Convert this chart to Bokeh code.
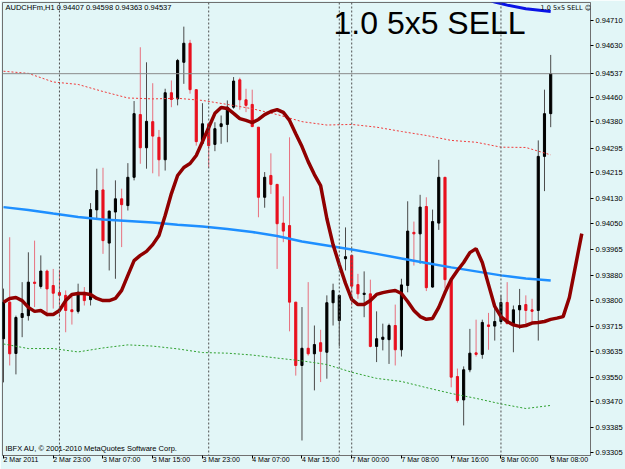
from bokeh.plotting import figure
from bokeh.models import Range1d, FixedTicker, PrintfTickFormatter, Span, Label, ColumnDataSource
from bokeh.embed import file_html
from bokeh.resources import INLINE

# ---------------- data ----------------
symbol = "AUDCHFm,H1"
opens = [0.93675, 0.93794, 0.93627, 0.93744, 0.93750, 0.93859, 0.93845, 0.93895, 0.93848, 0.93825,
         0.93816, 0.93769, 0.93764, 0.93826, 0.93802, 0.94094, 0.94159, 0.93986, 0.94087, 0.94130,
         0.94108, 0.94200, 0.94404, 0.94296, 0.94381, 0.94330, 0.94257, 0.94475, 0.94455, 0.94574,
         0.94636, 0.94485, 0.94311, 0.94374, 0.94307, 0.94365, 0.94372, 0.94428, 0.94517, 0.94452,
         0.94437, 0.94363, 0.94135, 0.94206, 0.94177, 0.94051, 0.94043, 0.93794, 0.93588, 0.93644,
         0.93626, 0.93662, 0.93631, 0.93792, 0.93734, 0.93935, 0.93946, 0.93851, 0.93819, 0.93821,
         0.93650, 0.93673, 0.93672, 0.93718, 0.93639, 0.93848, 0.94021, 0.94016, 0.94105, 0.93843,
         0.94051, 0.94200, 0.93867, 0.93552, 0.93476, 0.93574, 0.93629, 0.93624, 0.93720, 0.93716,
         0.93731, 0.93793, 0.93724, 0.93769, 0.93786, 0.93769, 0.93767, 0.94268, 0.94407]
highs = [0.93838, 0.94005, 0.93750, 0.93859, 0.93956, 0.93994, 0.93946, 0.93900, 0.93902, 0.93900,
         0.93832, 0.93822, 0.93854, 0.93843, 0.94116, 0.94228, 0.94231, 0.94092, 0.94190, 0.94163,
         0.94246, 0.94448, 0.94623, 0.94574, 0.94506, 0.94354, 0.94488, 0.94515, 0.94585, 0.94690,
         0.94647, 0.94486, 0.94441, 0.94375, 0.94379, 0.94401, 0.94450, 0.94526, 0.94524, 0.94488,
         0.94485, 0.94363, 0.94217, 0.94278, 0.94177, 0.94138, 0.94330, 0.93794, 0.93778, 0.93859,
         0.93718, 0.93704, 0.93816, 0.93854, 0.93816, 0.94037, 0.93948, 0.93886, 0.93894, 0.93867,
         0.93764, 0.93724, 0.93724, 0.93786, 0.93870, 0.94122, 0.94056, 0.94143, 0.94135, 0.94095,
         0.94257, 0.94200, 0.93868, 0.93578, 0.93585, 0.93707, 0.93737, 0.93737, 0.93759, 0.93789,
         0.93816, 0.93859, 0.93783, 0.93837, 0.93816, 0.93805, 0.94320, 0.94485, 0.94598]
lows = [0.93533, 0.93588, 0.93559, 0.93680, 0.93734, 0.93778, 0.93838, 0.93747, 0.93773, 0.93744,
        0.93696, 0.93721, 0.93757, 0.93783, 0.93783, 0.94065, 0.93951, 0.93897, 0.93870, 0.93973,
        0.94092, 0.94190, 0.94244, 0.94228, 0.94213, 0.94203, 0.94222, 0.94428, 0.94434, 0.94504,
        0.94472, 0.94303, 0.94309, 0.94231, 0.94285, 0.94309, 0.94314, 0.94423, 0.94420, 0.94412,
        0.94363, 0.94070, 0.94101, 0.94146, 0.93902, 0.93989, 0.93699, 0.93555, 0.93344, 0.93620,
        0.93507, 0.93534, 0.93545, 0.93718, 0.93650, 0.93897, 0.93783, 0.93805, 0.93745, 0.93647,
        0.93599, 0.93637, 0.93593, 0.93588, 0.93617, 0.93826, 0.93913, 0.93919, 0.93830, 0.93841,
        0.94029, 0.93838, 0.93517, 0.93467, 0.93393, 0.93566, 0.93617, 0.93610, 0.93639, 0.93669,
        0.93724, 0.93722, 0.93631, 0.93707, 0.93724, 0.93729, 0.93669, 0.94155, 0.94363]
closes = [0.93794, 0.93626, 0.93744, 0.93757, 0.93859, 0.93855, 0.93895, 0.93837, 0.93823, 0.93816,
          0.93767, 0.93763, 0.93826, 0.93799, 0.94095, 0.94157, 0.93994, 0.94090, 0.94130, 0.94111,
          0.94200, 0.94407, 0.94296, 0.94382, 0.94334, 0.94257, 0.94475, 0.94453, 0.94580, 0.94636,
          0.94485, 0.94316, 0.94374, 0.94303, 0.94358, 0.94374, 0.94428, 0.94513, 0.94452, 0.94434,
          0.94365, 0.94135, 0.94200, 0.94177, 0.94049, 0.94025, 0.93794, 0.93588, 0.93644, 0.93626,
          0.93656, 0.93634, 0.93792, 0.93832, 0.93816, 0.93942, 0.93846, 0.93821, 0.93823, 0.93650,
          0.93675, 0.93680, 0.93718, 0.93639, 0.93850, 0.94025, 0.94016, 0.94103, 0.93841, 0.94056,
          0.94200, 0.93867, 0.93550, 0.93474, 0.93574, 0.93628, 0.93624, 0.93728, 0.93715, 0.93731,
          0.93793, 0.93724, 0.93769, 0.93783, 0.93767, 0.93764, 0.94268, 0.94407, 0.94537]

# time-axis labels (every 8th hourly bar)
x_tick_labels = ["2 Mar 2011", "2 Mar 23:00", "3 Mar 07:00", "3 Mar 15:00", "3 Mar 23:00",
                 "4 Mar 07:00", "4 Mar 15:00", "7 Mar 00:00", "7 Mar 08:00", "7 Mar 16:00",
                 "8 Mar 00:00", "8 Mar 08:00"]
y_tick_values = [0.94710, 0.94630, 0.94537, 0.94460, 0.94380, 0.94295, 0.94215, 0.94130, 0.94050,
                 0.93965, 0.93880, 0.93800, 0.93715, 0.93635, 0.93550, 0.93470, 0.93385, 0.93305]
separator_bars = [9, 33, 54, 56, 80]

# forward-shifted moving average (bars 0..93)
ma_shifted = [0.93794, 0.93806, 0.93809, 0.93799, 0.93777, 0.93764, 0.93767, 0.93754, 0.93754, 0.93767,
              0.93799, 0.93819, 0.93822, 0.93822, 0.93819, 0.93806, 0.93799, 0.93799, 0.93806, 0.93832,
              0.93881, 0.93929, 0.93946, 0.93959, 0.93981, 0.94011, 0.94076, 0.94147, 0.94206, 0.94232,
              0.94245, 0.94271, 0.94316, 0.94362, 0.94408, 0.94427, 0.94424, 0.94408, 0.94391, 0.94385,
              0.94378, 0.94388, 0.94404, 0.94414, 0.94420, 0.94411, 0.94385, 0.94342, 0.94300, 0.94251,
              0.94209, 0.94173, 0.94066, 0.93981, 0.93916, 0.93855, 0.93803, 0.93786, 0.93786, 0.93799,
              0.93819, 0.93825, 0.93829, 0.93832, 0.93822, 0.93796, 0.93767, 0.93747, 0.93738, 0.93741,
              0.93777, 0.93825, 0.93868, 0.93897, 0.93923, 0.93955, 0.93968, 0.93923, 0.93851, 0.93780,
              0.93747, 0.93731, 0.93720, 0.93715, 0.93718, 0.93726, 0.93728, 0.93731, 0.93738, 0.93742,
              0.93747, 0.93809, 0.93913, 0.94017]
# long moving average and envelope bands, read every 4th bar
ma_long = [0.94103, 0.94094, 0.94082, 0.94071, 0.94063, 0.94058, 0.94053, 0.94046, 0.94040, 0.94032,
           0.94022, 0.94009, 0.93991, 0.93978, 0.93965, 0.93951, 0.93936, 0.93921, 0.93907, 0.93894,
           0.93881, 0.93871, 0.93864]
env_upper = [0.94545, 0.94538, 0.94510, 0.94502, 0.94479, 0.94458, 0.94455, 0.94457, 0.94450, 0.94437,
             0.94423, 0.94404, 0.94381, 0.94370, 0.94372, 0.94363, 0.94349, 0.94336, 0.94320, 0.94314,
             0.94298, 0.94297, 0.94273]
env_lower = [0.93658, 0.93643, 0.93643, 0.93632, 0.93645, 0.93655, 0.93651, 0.93642, 0.93630, 0.93628,
             0.93622, 0.93612, 0.93603, 0.93591, 0.93566, 0.93546, 0.93536, 0.93516, 0.93497, 0.93481,
             0.93463, 0.93448, 0.93458]
top_line_bars = [77, 79, 81, 84, 88]
top_line_values = [0.94785, 0.94770, 0.94760, 0.94748, 0.94739]

signal_text = "1.0 5x5 SELL"
copyright_text = "IBFX AU, \u00a9 2001-2010 MetaQuotes Software Corp."

# ---------------- derived ----------------
n = len(closes)
bars = list(range(n))
x_tick_bars = list(range(0, n, 8))
sample_bars = list(range(0, n, 4))
ma_bars = list(range(len(ma_shifted)))

BG = "#E2F6F7"
UP_BODY, UP_WICK = "#000000", "#4A4A4A"
DN_BODY, DN_WICK = "#E8101E", "#E8707E"

is_up = [c >= o for o, c in zip(opens, closes)]
src = ColumnDataSource(dict(
    x=bars,
    top=[max(o, c) for o, c in zip(opens, closes)],
    bottom=[min(o, c) for o, c in zip(opens, closes)],
    high=highs, low=lows,
    body=[UP_BODY if u else DN_BODY for u in is_up],
    wick=[UP_WICK if u else DN_WICK for u in is_up],
))

p = figure(width=625, height=469,
           x_range=Range1d(-0.16, 94.4), y_range=Range1d(0.932952, 0.947685),
           y_axis_location="right", output_backend="svg", toolbar_location=None,
           min_border_left=2, min_border_top=2, min_border_right=32, min_border_bottom=14,
           background_fill_color=BG, border_fill_color=BG)
p.outline_line_color = "#707070"
p.xgrid.visible = False
p.ygrid.visible = False

# axes
FONT = "Liberation Sans"
p.yaxis.ticker = FixedTicker(ticks=y_tick_values)
p.yaxis.formatter = PrintfTickFormatter(format="%.5f")
p.yaxis.major_label_text_font = FONT
p.yaxis.major_label_text_font_size = "7.5px"
p.yaxis.major_label_text_color = "#000000"
p.yaxis.major_tick_out = 3
p.yaxis.major_tick_in = 0
p.yaxis.minor_tick_line_color = None
p.yaxis.major_label_standoff = 2
p.yaxis.axis_line_color = "#707070"
p.yaxis.major_tick_line_color = "#000000"

p.xaxis.ticker = FixedTicker(ticks=x_tick_bars)
p.xaxis.major_label_overrides = {b: lab for b, lab in zip(x_tick_bars, x_tick_labels)}
p.xaxis.major_label_text_font = FONT
p.xaxis.major_label_text_font_size = "7px"
p.xaxis.major_label_text_color = "#000000"
p.xaxis.major_label_orientation = -0.0001   # numeric orientation -> labels start at the tick
p.xaxis.major_tick_out = 3
p.xaxis.major_tick_in = 0
p.xaxis.minor_tick_line_color = None
p.xaxis.major_label_standoff = 1
p.xaxis.axis_line_color = "#707070"
p.xaxis.major_tick_line_color = "#000000"

# period separators
for b in separator_bars:
    p.add_layout(Span(location=b, dimension="height", line_color="#505050",
                      line_dash="2 2", line_width=1))

# candles
p.segment(x0="x", y0="low", x1="x", y1="high", line_color="wick", line_width=1, source=src)
p.vbar(x="x", width=0.34, top="top", bottom="bottom", fill_color="body",
       line_color="body", line_width=1, source=src)

# bid line
p.add_layout(Span(location=closes[-1], dimension="width", line_color="#8A8A8A", line_width=1))

# indicators
p.line(sample_bars, env_upper, line_color="#F03C3C", line_dash="2 2", line_width=1)
p.line(sample_bars, env_lower, line_color="#2EA02E", line_dash="2 2", line_width=1)
p.line(sample_bars, ma_long, line_color="#1E8FFF", line_width=2.5)
p.line(ma_bars, ma_shifted, line_color="#900000", line_width=3.5)
p.line(top_line_bars, top_line_values, line_color="#0A14E6", line_width=3)

# texts
header = f"{symbol} {opens[-1]:.5f} {highs[-1]:.5f} {lows[-1]:.5f} {closes[-1]:.5f}"
p.add_layout(Label(x=3, y=443.8, x_units="screen", y_units="screen", text=header,
                   text_baseline="bottom",
                   text_font=FONT, text_font_size="7.5px", text_color="#000000"))
p.add_layout(Label(x=3, y=3, x_units="screen", y_units="screen", text=copyright_text,
                   text_baseline="bottom",
                   text_font=FONT, text_font_size="7.5px", text_color="#000000"))
p.add_layout(Label(x=331, y=415, x_units="screen", y_units="screen", text=signal_text,
                   text_baseline="bottom",
                   text_font=FONT, text_font_size="32px", text_color="#000000"))
p.add_layout(Label(x=538, y=443.3, x_units="screen", y_units="screen",
                   text=signal_text + " \u263A", text_font="DejaVu Sans", text_baseline="bottom",
                   text_font_size="6.5px", text_color="#000000"))

open("out.html", "w").write(file_html(p, INLINE))
